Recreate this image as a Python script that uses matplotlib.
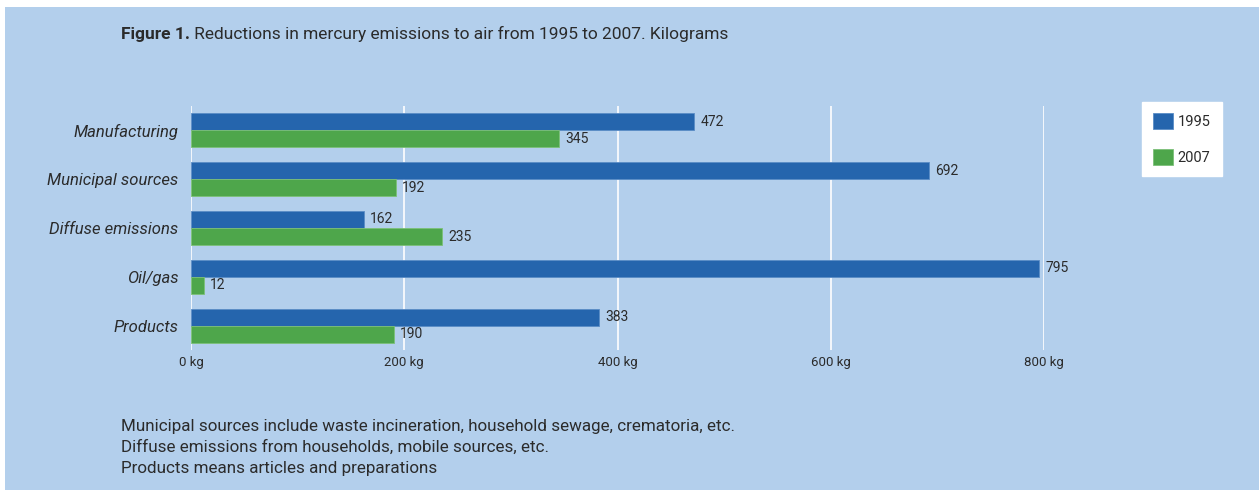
import numpy as np
import matplotlib.pyplot as plt

plt.rcParams['font.family'] = ['Roboto', 'DejaVu Sans']

categories = ['Manufacturing', 'Municipal sources', 'Diffuse emissions', 'Oil/gas', 'Products']
kg_1995 = [472, 692, 162, 795, 383]
kg_2007 = [345, 192, 235, 12, 190]
xticks = [0, 200, 400, 600, 800]
notes = ['Municipal sources include waste incineration, household sewage, crematoria, etc.',
         'Diffuse emissions from households, mobile sources, etc.',
         'Products means articles and preparations']

bg = '#b3cfec'
blue = '#2565ad'
green = '#4ea64b'
txt = '#2b2b2b'

fig = plt.figure(figsize=(12.59, 4.9), dpi=100)
fig.patch.set_facecolor('white')
# light blue panel with a thin white margin top/left
fig.patches.append(plt.Rectangle((5/1259, 0), 1, 1 - 7/490, transform=fig.transFigure,
                                 facecolor=bg, edgecolor='none', zorder=-10))

ax = fig.add_axes([191/1259, 1 - 350/490, 853/1259, 244/490])
ax.set_facecolor('none')

y = np.arange(len(categories))
h = 0.35
b1 = ax.barh(y - h/2, kg_1995, height=h, color=blue, edgecolor='#5a8cc6', linewidth=0.6, label='1995', zorder=3)
b2 = ax.barh(y + h/2, kg_2007, height=h, color=green, edgecolor='#7cc078', linewidth=0.6, label='2007', zorder=3)

for bars in (b1, b2):
    for r in bars:
        w = r.get_width()
        ax.text(w + 6, r.get_y() + r.get_height()/2, str(int(w)), va='center', ha='left',
                fontsize=10, color=txt, clip_on=False)

ax.set_xlim(0, 800)
ax.set_ylim(len(categories) - 0.5, -0.5)
ax.set_xticks(xticks)
ax.set_xticklabels([f'{v} kg' for v in xticks], fontsize=9.5, color=txt)
ax.set_yticks(y)
ax.set_yticklabels(categories, fontsize=12, style='italic', color=txt)
ax.tick_params(axis='y', length=0, pad=9)
ax.tick_params(axis='x', length=0, pad=4)
ax.grid(axis='x', color='white', linewidth=1.2, zorder=1)
for s in ax.spines.values():
    s.set_visible(False)

leg = fig.legend(handles=[b1, b2], loc='upper left', bbox_to_anchor=(1142/1259, 1 - 102/490),
                 bbox_transform=fig.transFigure, frameon=True, fancybox=False,
                 handlelength=1.35, handleheight=1.35, labelspacing=1.35, borderpad=0.75,
                 handletextpad=0.35, borderaxespad=0, fontsize=10.5)
leg.get_frame().set_facecolor('white')
leg.get_frame().set_edgecolor('white')
leg.get_frame().set_alpha(1)
for t in leg.get_texts():
    t.set_color(txt)

t1 = fig.text(121/1259, 1 - 34/490, 'Figure 1.', fontsize=12.5, fontweight='bold', color=txt, va='center')
ax.annotate(' Reductions in mercury emissions to air from 1995 to 2007. Kilograms',
            xy=(1, 0.5), xycoords=t1, va='center', ha='left', fontsize=12.5, color=txt,
            annotation_clip=False)

for i, line in enumerate(notes):
    fig.text(121/1259, 1 - (426 + 21*i)/490, line, fontsize=12.25, color=txt, va='center')

fig.savefig('out.png', dpi=100, facecolor=fig.get_facecolor())
